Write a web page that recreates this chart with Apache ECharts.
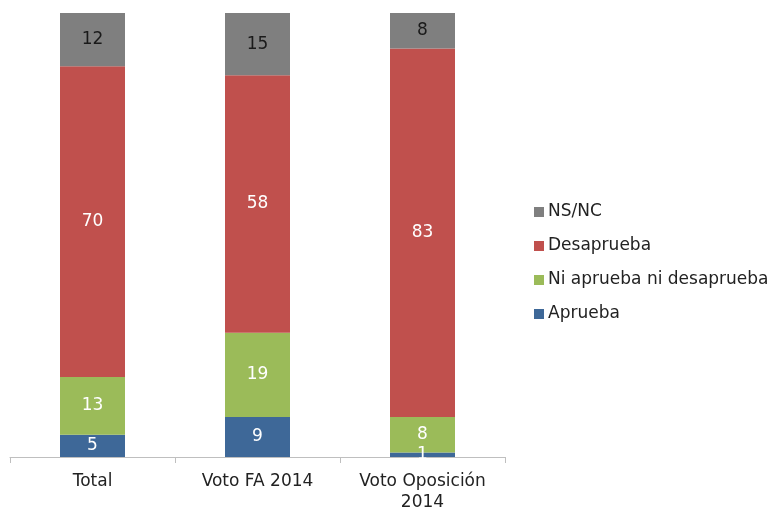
<!DOCTYPE html>
<html>
<head>
<meta charset="utf-8">
<title>Aprobación</title>
<script src="https://cdn.jsdelivr.net/npm/echarts@6/dist/echarts.min.js"></script>
<style>html,body{margin:0;padding:0;background:#fff}</style>
</head>
<body>
<div id="main" style="width:774px;height:513px;"></div>
<script>
// categorias y valores (%)
var categorias = ['Total', 'Voto FA 2014', 'Voto Oposición\n2014'];
var aprueba = [5, 9, 1];
var niNi = [13, 19, 8];
var desaprueba = [70, 58, 83];
var nsnc = [12, 15, 8];

var myChart = echarts.init(document.getElementById('main'));

function serie(nombre, datos, color, colorTexto) {
    return {
        name: nombre,
        type: 'bar',
        stack: 'total',
        barWidth: 65,
        data: datos,
        itemStyle: { color: color },
        label: {
            show: true,
            position: 'inside',
            color: colorTexto,
            fontFamily: 'DejaVu Sans',
            fontSize: 17
        }
    };
}

var option = {
    animation: false,
    textStyle: { fontFamily: 'DejaVu Sans' },
    grid: { left: 10, top: 13, width: 495, height: 444, outerBoundsMode: 'none', containLabel: false },
    legend: {
        orient: 'vertical',
        left: 529,
        top: 197,
        icon: 'rect',
        itemWidth: 10,
        itemHeight: 10,
        itemGap: 14,
        itemStyle: { borderWidth: 0 },
        textStyle: { fontSize: 17, lineHeight: 20, color: '#222', fontFamily: 'DejaVu Sans', padding: [0, 0, 0, -1] },
        data: ['NS/NC', 'Desaprueba', 'Ni aprueba ni desaprueba', 'Aprueba']
    },
    xAxis: {
        type: 'category',
        data: categorias,
        axisLine: { lineStyle: { color: '#BFBFBF' } },
        axisTick: { show: true, length: 6, interval: 0, lineStyle: { color: '#BFBFBF' } },
        axisLabel: { interval: 0, color: '#222', fontSize: 17, margin: 14, lineHeight: 21 }
    },
    yAxis: {
        type: 'value',
        min: 0,
        max: 100,
        show: false,
        splitLine: { show: false }
    },
    series: [
        serie('Aprueba', aprueba, '#3E6898', '#fff'),
        serie('Ni aprueba ni desaprueba', niNi, '#9BBB59', '#fff'),
        serie('Desaprueba', desaprueba, '#C0504D', '#fff'),
        serie('NS/NC', nsnc, '#7F7F7F', '#1a1a1a')
    ]
};

myChart.setOption(option);
</script>
</body>
</html>
